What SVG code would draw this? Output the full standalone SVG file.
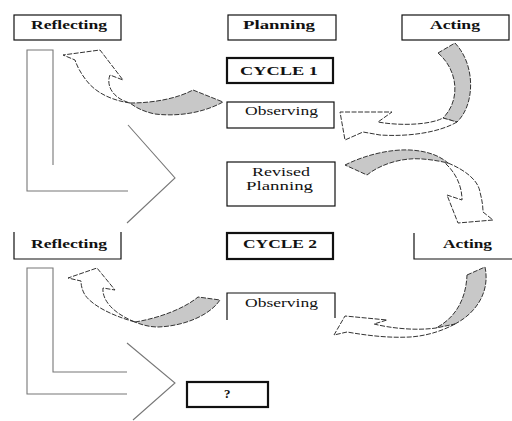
<svg xmlns="http://www.w3.org/2000/svg" width="512" height="421" viewBox="0 0 512 421">
<style>
.box{fill:#fff;stroke:#111;stroke-width:1.2}
.thick{stroke-width:2.2}
.open{fill:none;stroke:#111;stroke-width:1.2}
.lb{font-family:"Liberation Serif","Times New Roman",serif;font-size:13px;font-weight:bold;fill:#111}
.lr{font-family:"Liberation Serif","Times New Roman",serif;font-size:13px;fill:#111}
.sm{font-size:11.5px}
.ca{stroke:#333;stroke-width:1;stroke-dasharray:5 1.5;stroke-linejoin:round}
.w{fill:#fff}
.g{fill:#c8c8c8}
.big{fill:none;stroke:#777;stroke-width:1.1}
</style>
<rect width="512" height="421" fill="#fff"/>
<g id="connectors">
  <path class="big" d="M53,165 V50 H27 V191 H128"/>
  <path class="big" d="M128,125 L175,178 L127,223"/>
  <path class="big" d="M127,372 H53 V268 H27 V394 H127"/>
  <path class="big" d="M127,343 L175,383 L133,420"/>
  <path class="ca w" d="M130,103 C110,100 95,92 86,80 C80,72 77,66 75,60 L63,55 L100,50 L123,80 L110,75 C106,85 112,98 130,103 Z"/>
  <path class="ca g" d="M130,103 C155,103 178,98 193,90 L223,102 C205,112 180,117 155,114 C145,112 136,108 130,103 Z"/>
  <path class="ca g" d="M438,53 L455,43 C476,65 475,105 457,122 L443,118 C461,100 458,70 438,53 Z"/>
  <path class="ca w" d="M457,122 C440,132 410,137 380,135 L363,132 L345,140 L340,112 L392,112 L378,122 C400,126 430,125 443,118 Z"/>
  <path class="ca g" d="M345,165 C365,155 390,149 410,150 C428,151 440,156 448,163 C435,160 420,158 410,159 C395,160 378,166 367,175 Z"/>
  <path class="ca w" d="M448,163 C465,170 478,180 480,192 C482,200 483,206 483,212 L493,220 L458,223 L447,195 L462,200 C462,185 455,172 445,163 Z"/>
  <path class="ca w" d="M135,322 C110,315 92,305 85,295 C82,290 81,285 81,281 L68,278 L97,268 L115,290 L103,288 C102,298 110,312 135,322 Z"/>
  <path class="ca g" d="M135,322 C160,318 185,308 198,297 L220,300 C210,315 185,326 158,327 C150,327 142,325 135,322 Z"/>
  <path class="ca g" d="M467,275 L485,267 C490,290 478,312 455,324 C448,327 442,328 436,328 C455,318 466,300 467,275 Z"/>
  <path class="ca w" d="M455,324 C440,332 425,336 410,337 C390,338 370,336 347,332 L334,335 L345,316 L387,320 L374,324 C390,328 415,331 436,328 Z"/>
</g>
<g id="reflecting1"><rect class="box" x="14" y="15" width="107" height="25"/><text class="lb" x="31" y="29" textLength="76" lengthAdjust="spacingAndGlyphs">Reflecting</text></g>
<g id="planning"><rect class="box" x="228" y="15" width="108" height="25"/><text class="lb" x="243" y="29" textLength="72" lengthAdjust="spacingAndGlyphs">Planning</text></g>
<g id="acting1"><rect class="box" x="402" y="15" width="107" height="25"/><text class="lb" x="430" y="29" textLength="50" lengthAdjust="spacingAndGlyphs">Acting</text></g>
<g id="cycle1"><rect class="box thick" x="227" y="58" width="106" height="25"/><text class="lb" x="240" y="75" textLength="78" lengthAdjust="spacingAndGlyphs">CYCLE 1</text></g>
<g id="observing1"><rect class="box" x="227" y="102" width="107" height="26"/><text class="lr" x="245" y="115" textLength="73" lengthAdjust="spacingAndGlyphs">Observing</text></g>
<g id="revised"><rect class="box" x="227" y="162" width="108" height="44"/><text class="lr sm" x="252" y="176" textLength="58" lengthAdjust="spacingAndGlyphs">Revised</text><text class="lr sm" x="246" y="190" textLength="67" lengthAdjust="spacingAndGlyphs">Planning</text></g>
<g id="reflecting2"><path class="open" d="M14,232 V259 H121 V232"/><text class="lb" x="31" y="248" textLength="76" lengthAdjust="spacingAndGlyphs">Reflecting</text></g>
<g id="cycle2"><rect class="box thick" x="227" y="233" width="106" height="26"/><text class="lb" x="243" y="248" textLength="74" lengthAdjust="spacingAndGlyphs">CYCLE 2</text></g>
<g id="acting2"><path class="open" d="M414,233 V259 H512"/><text class="lb" x="443" y="248" textLength="49" lengthAdjust="spacingAndGlyphs">Acting</text></g>
<g id="observing2"><path class="open" d="M227,320 V293 H335 V318"/><text class="lr" x="245" y="307" textLength="73" lengthAdjust="spacingAndGlyphs">Observing</text></g>
<g id="question"><rect class="box thick" x="187" y="382" width="81" height="25"/><text class="lb" x="224" y="398">?</text></g>
</svg>
